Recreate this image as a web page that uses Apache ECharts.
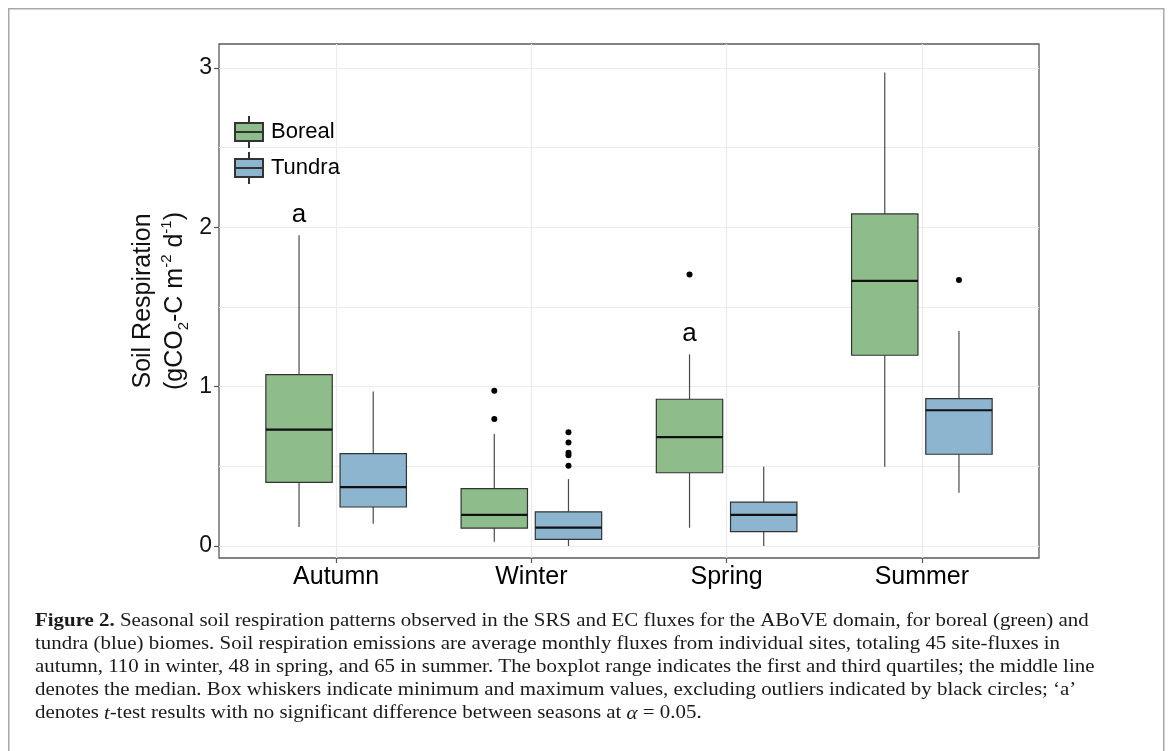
<!DOCTYPE html>
<html>
<head>
<meta charset="utf-8">
<script src="https://cdn.jsdelivr.net/npm/echarts@6/dist/echarts.min.js"></script>
<style>
  html, body { margin: 0; padding: 0; background: #ffffff; }
  #chart { width: 1168px; height: 751px; }
</style>
</head>
<body>
<div id="chart"></div>
<script>
// ---------------- data ----------------
const seasons = ['Autumn', 'Winter', 'Spring', 'Summer'];
const seriesNames = ['Boreal', 'Tundra'];
// [min, Q1, median, Q3, max] per season
const borealStats = [
  [0.12, 0.40, 0.73, 1.075, 1.95],
  [0.027, 0.113, 0.195, 0.36, 0.703],
  [0.115, 0.46, 0.684, 0.921, 1.203],
  [0.498, 1.197, 1.664, 2.084, 2.971]
];
const tundraStats = [
  [0.14, 0.245, 0.37, 0.58, 0.97],
  [0.0, 0.042, 0.115, 0.215, 0.42],
  [0.0, 0.09, 0.195, 0.276, 0.498],
  [0.335, 0.576, 0.852, 0.925, 1.35]
];
// [season index, value]
const borealOutliers = [[1, 0.975], [1, 0.797], [2, 1.703]];
const tundraOutliers = [[1, 0.714], [1, 0.649], [1, 0.586], [1, 0.570], [1, 0.504], [3, 1.67]];
// significance letters above boreal boxes: [season index, value, text]
const letterMarks = [[0, 2.08, 'a'], [2, 1.33, 'a']];
const seasonTicks = [0, 1, 2, 3];
const yTickValues = [0, 1, 2, 3];
const captionLines = [
  '{b|Figure 2.} Seasonal soil respiration patterns observed in the SRS and EC fluxes for the ABoVE domain, for boreal (green) and',
  'tundra (blue) biomes. Soil respiration emissions are average monthly fluxes from individual sites, totaling 45 site-fluxes in',
  'autumn, 110 in winter, 48 in spring, and 65 in summer. The boxplot range indicates the first and third quartiles; the middle line',
  'denotes the median. Box whiskers indicate minimum and maximum values, excluding outliers indicated by black circles; \u2018a\u2019',
  'denotes {i|t}-test results with no significant difference between seasons at {i|\u03b1} = 0.05.'
];

// ---------------- style constants ----------------
const GREEN = '#8fbc8b';
const BLUE = '#8db5cf';
const OFFSET = 0.19;   // dodge offset (axis units)
const BOX_W = 0.34;    // box width (axis units)
const X_MIN = -0.6, X_MAX = 3.6;
const Y_MIN = -0.075, Y_MAX = 3.15;
const SANS = 'Liberation Sans, Arial, sans-serif';
const GRID_COLOR = '#ebebeb';

function boxRenderer(offset, fill) {
  return function (params, api) {
    const x = api.value(0) + offset;
    const p = [1, 2, 3, 4, 5].map(d => api.coord([x, api.value(d)]));
    const w = api.size([BOX_W, 0])[0];
    const cx = p[0][0];
    const left = cx - w / 2;
    const wh = { stroke: '#4a4a4a', lineWidth: 1.2 };
    return {
      type: 'group',
      children: [
        { type: 'line', shape: { x1: cx, y1: p[4][1], x2: cx, y2: p[3][1] }, style: wh },
        { type: 'line', shape: { x1: cx, y1: p[1][1], x2: cx, y2: p[0][1] }, style: wh },
        { type: 'rect', shape: { x: left, y: p[3][1], width: w, height: p[1][1] - p[3][1] },
          style: { fill: fill, stroke: '#333333', lineWidth: 1.2 } },
        { type: 'line', shape: { x1: left, y1: p[2][1], x2: left + w, y2: p[2][1] },
          style: { stroke: '#111111', lineWidth: 2.2 } }
      ]
    };
  };
}

const ICON = 'path://M14,0L14,7M0,7L28,7L28,25L0,25ZM0,16L28,16M14,25L14,32';

const chart = echarts.init(document.getElementById('chart'), null, { renderer: 'canvas' });

const option = {
  animation: false,
  backgroundColor: '#ffffff',
  grid: {
    left: 219, top: 44, right: 129, bottom: 193,
    show: true, borderColor: '#5a5a5a', borderWidth: 1.3, backgroundColor: 'transparent'
  },
  legend: {
    orient: 'vertical',
    left: 229, top: 110,
    itemWidth: 28, itemHeight: 32, itemGap: 2,
    textStyle: { fontFamily: SANS, fontSize: 22, color: '#000000', padding: [0, 0, 0, 3] },
    data: seriesNames.map(n => ({ name: n, icon: ICON })),
    selectedMode: false
  },
  xAxis: {
    type: 'value', min: X_MIN, max: X_MAX,
    axisLine: { show: false, onZero: false },
    axisTick: { show: true, length: 5, customValues: seasonTicks, lineStyle: { color: '#555555', width: 1.2 } },
    axisLabel: {
      fontFamily: SANS, fontSize: 25, color: '#000000', margin: 7,
      customValues: seasonTicks,
      formatter: v => (Number.isInteger(v) && seasons[v] !== undefined) ? seasons[v] : ''
    },
    splitLine: { show: true, showMinLine: true, showMaxLine: true, lineStyle: { color: GRID_COLOR, width: 1.2 } }
  },
  yAxis: [
    {
      // background grid (major + minor lines every 0.5)
      type: 'value', min: Y_MIN, max: Y_MAX, splitNumber: 6,
      axisLine: { show: false, onZero: false }, axisTick: { show: false }, axisLabel: { show: false },
      splitLine: { show: true, showMinLine: false, showMaxLine: false, lineStyle: { color: GRID_COLOR, width: 1.2 } }
    },
    {
      type: 'value', min: Y_MIN, max: Y_MAX, position: 'left',
      axisLine: { show: false, onZero: false },
      axisTick: { show: true, length: 5, customValues: yTickValues, lineStyle: { color: '#555555', width: 1.2 } },
      axisLabel: {
        fontFamily: SANS, fontSize: 23, color: '#111111', margin: 7,
        customValues: yTickValues,
        formatter: v => String(v)
      },
      splitLine: { show: false },
      name: 'Soil Respiration\n(gCO{sub|2}-C m{sup|-2} d{sup|-1})',
      nameLocation: 'middle', nameRotate: 90, nameGap: 28, nameMoveOverlap: false,
      nameTextStyle: {
        fontFamily: SANS, fontSize: 25, color: '#111111', lineHeight: 32, align: 'center',
        rich: {
          sub: { fontFamily: SANS, fontSize: 15, lineHeight: 16, verticalAlign: 'bottom', color: '#111111' },
          sup: { fontFamily: SANS, fontSize: 15, lineHeight: 20, verticalAlign: 'top', color: '#111111' }
        }
      }
    }
  ],
  series: [
    {
      name: 'Boreal', type: 'custom', yAxisIndex: 1,
      renderItem: boxRenderer(-OFFSET, GREEN),
      itemStyle: { color: GREEN, borderColor: '#333333', borderWidth: 1.2 },
      encode: { x: 0, y: [1, 2, 3, 4, 5] },
      data: borealStats.map((s, i) => [i].concat(s)),
      z: 3
    },
    {
      name: 'Tundra', type: 'custom', yAxisIndex: 1,
      renderItem: boxRenderer(OFFSET, BLUE),
      itemStyle: { color: BLUE, borderColor: '#333333', borderWidth: 1.2 },
      encode: { x: 0, y: [1, 2, 3, 4, 5] },
      data: tundraStats.map((s, i) => [i].concat(s)),
      z: 3
    },
    {
      name: 'Boreal outliers', type: 'scatter', yAxisIndex: 1,
      symbolSize: 6, itemStyle: { color: '#000000', opacity: 1 },
      data: borealOutliers.map(d => [d[0] - OFFSET, d[1]]),
      z: 4, silent: true
    },
    {
      name: 'Tundra outliers', type: 'scatter', yAxisIndex: 1,
      symbolSize: 6, itemStyle: { color: '#000000', opacity: 1 },
      data: tundraOutliers.map(d => [d[0] + OFFSET, d[1]]),
      z: 4, silent: true
    },
    {
      name: 'letters', type: 'scatter', yAxisIndex: 1,
      symbolSize: 0, silent: true,
      itemStyle: { opacity: 1, color: '#000000' },
      data: letterMarks.map(d => [d[0] - OFFSET, d[1], d[2]]),
      label: {
        show: true, position: 'inside', formatter: p => p.data[2],
        fontFamily: SANS, fontSize: 26, color: '#000000', opacity: 1, textBorderWidth: 0
      },
      z: 5
    }
  ],
  graphic: [
    {
      type: 'rect', left: 8, top: 8, z: -10, silent: true,
      shape: { width: 1155, height: 800 },
      style: { fill: 'transparent', stroke: '#a8a8a8', lineWidth: 1.5 }
    },
    {
      type: 'text', x: 35, y: 610, scaleX: 1.1, silent: true,
      style: {
        text: captionLines.join('\n'),
        font: '19px "Liberation Serif", "Times New Roman", serif',
        fill: '#1a1a1a', lineHeight: 23,
        rich: {
          b: { fontFamily: 'Liberation Serif', fontSize: 19, fontWeight: 'bold', fill: '#1a1a1a', lineHeight: 23 },
          i: { fontFamily: 'Liberation Serif', fontSize: 19, fontStyle: 'italic', fill: '#1a1a1a', lineHeight: 23 }
        }
      }
    }
  ]
};

chart.setOption(option);
</script>
</body>
</html>
